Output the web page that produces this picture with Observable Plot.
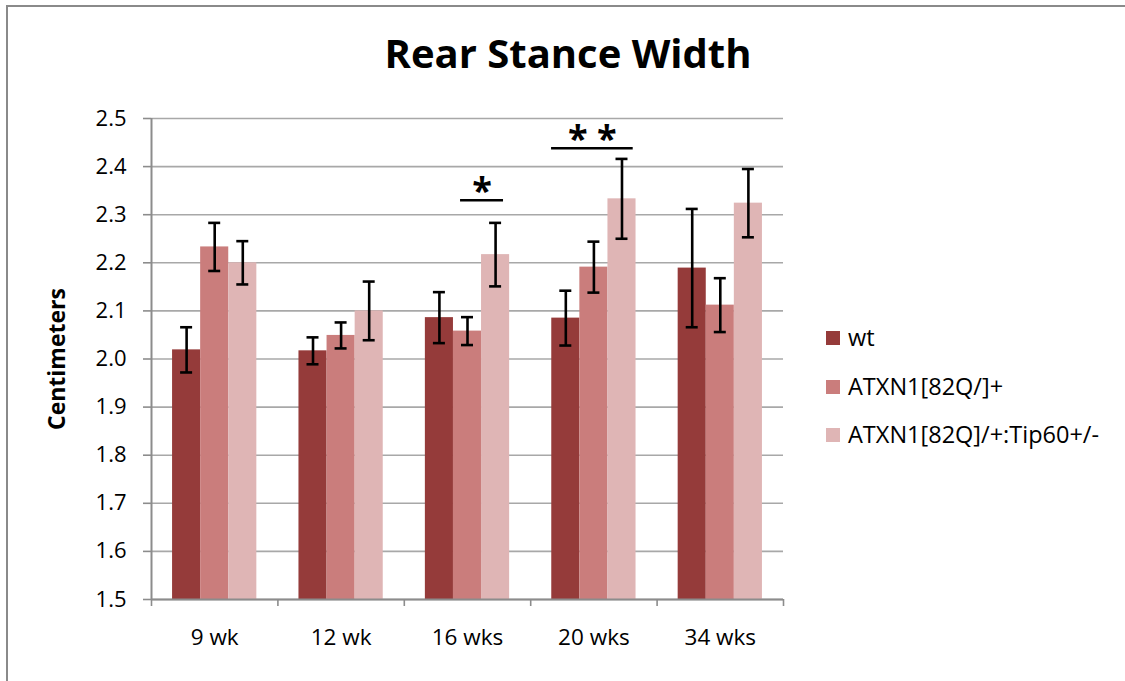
<!DOCTYPE html>
<html>
<head>
<meta charset="utf-8">
<script src="https://cdn.jsdelivr.net/npm/d3@7"></script>
<script src="https://cdn.jsdelivr.net/npm/@observablehq/plot@0.6"></script>
<style>
  html, body { margin: 0; padding: 0; background: #fff; overflow: hidden; }
  #wrap { position: relative; width: 1125px; height: 681px; font-family: "Open Sans", sans-serif; }
  #frame { position: absolute; left: 6px; top: 5px; width: 1300px; height: 900px;
           border-left: 2px solid #8a8a8a; border-top: 2px solid #8a8a8a; pointer-events: none; }
  #chart { position: absolute; left: 0; top: 0; }
  #legend { position: absolute; left: 826px; top: 324px; }
  .item { position: relative; height: 48.5px; font-size: 23.5px; color: #000; white-space: nowrap; }
  .sw { position: absolute; left: 0; top: 7px; width: 14px; height: 14px; }
  .lab { position: absolute; left: 22px; top: -2px; line-height: 30px; }
</style>
</head>
<body>
<div id="wrap">
  <div id="chart"></div>
  <div id="legend"></div>
  <div id="frame"></div>
</div>
<script>
// ---- data ----
const title = "Rear Stance Width";
const yLabel = "Centimeters";
const weeks = ["9 wk", "12 wk", "16 wks", "20 wks", "34 wks"];
const series = ["wt", "ATXN1[82Q/]+", "ATXN1[82Q]/+:Tip60+/-"];
const wtMean = [2.019, 2.017, 2.086, 2.085, 2.189];
const wtErr = [0.047, 0.028, 0.053, 0.057, 0.123];
const atxnMean = [2.233, 2.049, 2.058, 2.191, 2.112];
const atxnErr = [0.050, 0.027, 0.029, 0.053, 0.056];
const tipMean = [2.200, 2.100, 2.217, 2.333, 2.324];
const tipErr = [0.045, 0.061, 0.066, 0.083, 0.071];
const yTicks = [1.5, 1.6, 1.7, 1.8, 1.9, 2.0, 2.1, 2.2, 2.3, 2.4, 2.5];
const colors = ["#953b3a", "#ca7d7c", "#dfb5b5"];
// significance markers: week, label, bracket height (cm), bracket start/end within the week's slot
const sigWeek = ["16 wks", "20 wks"];
const sigLabel = ["*", "* *"];
const sigY = [2.33, 2.438];
const sigFrom = [0.445, 0.165];
const sigTo = [0.785, 0.811];

// ---- build table ----
const means = [wtMean, atxnMean, tipMean];
const errs = [wtErr, atxnErr, tipErr];
const groupPad = 1 / 6, barW = 2 / 9;
const rows = [];
weeks.forEach((w, i) => {
  series.forEach((s, j) => {
    const x1 = i + groupPad + j * barW;
    rows.push({week: w, series: s, value: means[j][i], err: errs[j][i],
               x1, x2: x1 + barW, xc: x1 + barW / 2});
  });
});
const sig = sigWeek.map((w, k) => {
  const i = weeks.indexOf(w);
  return {label: sigLabel[k], y: sigY[k], x1: i + sigFrom[k], x2: i + sigTo[k], xc: i + (sigFrom[k] + sigTo[k]) / 2};
});

const gray = "#8c8c8c";
const plot = Plot.plot({
  width: 1125,
  height: 681,
  marginLeft: 151,
  marginRight: 342,
  marginTop: 118,
  marginBottom: 82,
  style: {fontFamily: "Open Sans, sans-serif", fontSize: "22px", color: "#000", background: "transparent"},
  x: {domain: [0, weeks.length], axis: null},
  y: {domain: [yTicks[0], yTicks[yTicks.length - 1]], axis: null},
  color: {domain: series, range: colors},
  marks: [
    Plot.gridY(yTicks, {stroke: "#a8a8a8", strokeOpacity: 1, strokeWidth: 1.6}),
    Plot.rect(rows, {x1: "x1", x2: "x2", y1: yTicks[0], y2: "value", fill: "series"}),
    Plot.ruleX(rows, {x: "xc", y1: d => d.value - d.err, y2: d => d.value + d.err, stroke: "#000", strokeWidth: 2.6}),
    Plot.ruleY(rows, {x1: "xc", x2: "xc", y: d => d.value - d.err, insetLeft: -6, insetRight: -6, stroke: "#000", strokeWidth: 2.6}),
    Plot.ruleY(rows, {x1: "xc", x2: "xc", y: d => d.value + d.err, insetLeft: -6, insetRight: -6, stroke: "#000", strokeWidth: 2.6}),
    // axis lines
    Plot.ruleY([yTicks[0]], {stroke: gray, strokeWidth: 2}),
    Plot.ruleX([0], {stroke: gray, strokeWidth: 2}),
    Plot.axisY({ticks: yTicks, tickSize: 8, tickPadding: 17, tickFormat: d3.format(".1f"), stroke: gray, strokeWidth: 1.6, fill: "#000", label: null, fontSize: 22}),
    Plot.axisX({ticks: d3.range(weeks.length + 1), tickSize: 7, tickFormat: () => "", stroke: gray, strokeWidth: 1.6, label: null}),
    Plot.axisX({ticks: weeks.map((w, i) => i + 0.5), tickSize: 0, tickPadding: 30, tickFormat: d => weeks[Math.floor(d)], fill: "#000", label: null, fontSize: 22.5}),
    // y label
    Plot.text([yLabel], {frameAnchor: "left", textAnchor: "middle", dx: -94, rotate: -90, fontWeight: "bold", fontSize: 23, fill: "#000"}),
    // title
    Plot.text([title], {frameAnchor: "top", dx: 100.5, dy: -51, lineAnchor: "bottom", fontWeight: "bold", fontSize: 40, fill: "#000"}),
    // significance brackets
    Plot.ruleY(sig, {x1: "x1", x2: "x2", y: "y", stroke: "#000", strokeWidth: 2.6}),
    Plot.text(sig, {x: "xc", y: "y", text: "label", dy: 3, lineAnchor: "bottom", fontWeight: "bold", fontSize: 36, fill: "#000"})
  ]
});
document.getElementById("chart").appendChild(plot);

// legend
const color = plot.scale("color");
const legend = document.getElementById("legend");
series.forEach(s => {
  const item = document.createElement("div");
  item.className = "item";
  const sw = document.createElement("div");
  sw.className = "sw";
  sw.style.background = color.apply(s);
  const lab = document.createElement("div");
  lab.className = "lab";
  lab.textContent = s;
  item.appendChild(sw);
  item.appendChild(lab);
  legend.appendChild(item);
});
</script>
</body>
</html>
